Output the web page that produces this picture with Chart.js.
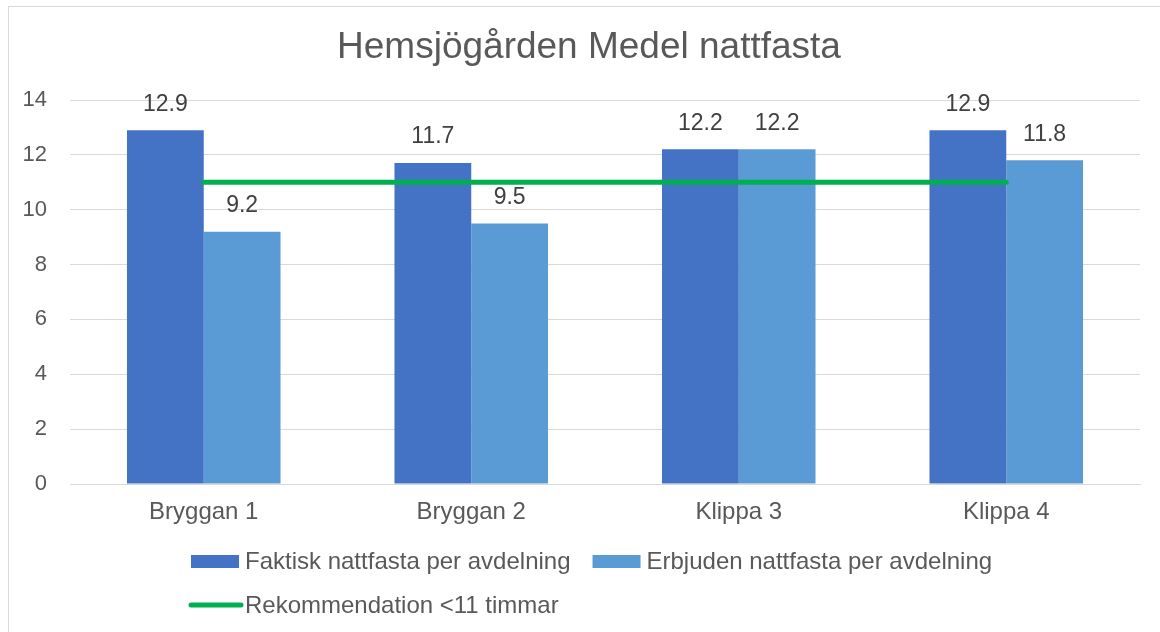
<!DOCTYPE html>
<html>
<head>
<meta charset="utf-8">
<script src="https://cdn.jsdelivr.net/npm/chart.js@4"></script>
<style>
  html, body { margin: 0; padding: 0; background: #fff; }
  #wrap { width: 1160px; height: 632px; position: relative; }
</style>
</head>
<body>
<div id="wrap"><canvas id="chart" width="1160" height="632"></canvas></div>
<script>
// -------------------------------------------------------------
// Data
// -------------------------------------------------------------
const categories = ['Bryggan 1', 'Bryggan 2', 'Klippa 3', 'Klippa 4']
const faktisk = [12.9, 11.7, 12.2, 12.9]
const erbjuden = [9.2, 9.5, 12.2, 11.8]
const rekommendation = [11, 11, 11, 11]
const yTicks = [0, 2, 4, 6, 8, 10, 12, 14]

const titleText = 'Hemsjögården Medel nattfasta'
const FONT = '"Liberation Sans", Arial, sans-serif'
const TEXT = '#595959'

// -------------------------------------------------------------
// Plugins: frame + title, value labels, legend (rows left aligned)
// -------------------------------------------------------------
const framePlugin = {
  id: 'frame',
  beforeDraw(chart) {
    const ctx = chart.ctx
    ctx.save()
    ctx.fillStyle = '#fff'
    ctx.fillRect(0, 0, chart.width, chart.height)
    ctx.strokeStyle = '#d9d9d9'
    ctx.lineWidth = 1
    ctx.strokeRect(8.5, 6.5, chart.width + 20, chart.height + 20)
    ctx.fillStyle = TEXT
    ctx.font = `37px ${FONT}`
    ctx.textAlign = 'center'
    ctx.textBaseline = 'middle'
    ctx.fillText(titleText, 589, 48)
    ctx.restore()
  }
}

const valueLabels = {
  id: 'valueLabels',
  afterDatasetsDraw(chart) {
    const ctx = chart.ctx
    ctx.save()
    ctx.fillStyle = '#404040'
    ctx.font = `23px ${FONT}`
    ctx.textAlign = 'center'
    ctx.textBaseline = 'middle'
    chart.data.datasets.forEach((ds, i) => {
      if (ds.type === 'line') return
      chart.getDatasetMeta(i).data.forEach((bar, j) => {
        ctx.fillText(ds.data[j].toFixed(1), bar.x, bar.y - 26)
      })
    })
    ctx.restore()
  }
}

const legendPlugin = {
  id: 'customLegend',
  afterDraw(chart) {
    const ctx = chart.ctx
    const ds = chart.data.datasets
    ctx.save()
    ctx.font = `24px ${FONT}`
    ctx.textBaseline = 'middle'
    ctx.textAlign = 'left'
    const markerW = 48, gap = 6, itemGap = 22
    const w = d => markerW + gap + ctx.measureText(d.label).width
    const rows = [[ds[0], ds[1]], [ds[2]]]
    const row1W = w(ds[0]) + itemGap + w(ds[1])
    const startX = Math.round(592 - row1W / 2)
    const rowY = [561, 605]
    rows.forEach((row, r) => {
      let x = startX
      const y = rowY[r]
      row.forEach(d => {
        if (d.type === 'line') {
          ctx.strokeStyle = d.borderColor
          ctx.lineWidth = 5
          ctx.lineCap = 'round'
          ctx.beginPath()
          ctx.moveTo(x, y)
          ctx.lineTo(x + markerW + 2, y)
          ctx.stroke()
        } else {
          ctx.fillStyle = d.backgroundColor
          ctx.fillRect(x, y - 6, markerW, 13)
        }
        ctx.fillStyle = TEXT
        ctx.fillText(d.label, x + markerW + gap, y + 1)
        x += w(d) + itemGap
      })
    })
    ctx.restore()
  }
}

// -------------------------------------------------------------
// Chart
// -------------------------------------------------------------
new Chart(document.getElementById('chart'), {
  type: 'bar',
  data: {
    labels: categories,
    datasets: [
      {
        label: 'Faktisk nattfasta per avdelning',
        data: faktisk,
        backgroundColor: '#4472C4',
        categoryPercentage: 0.574,
        barPercentage: 1,
        order: 2
      },
      {
        label: 'Erbjuden nattfasta per avdelning',
        data: erbjuden,
        backgroundColor: '#5B9BD5',
        categoryPercentage: 0.574,
        barPercentage: 1,
        order: 2
      },
      {
        type: 'line',
        label: 'Rekommendation <11 timmar',
        data: rekommendation,
        borderColor: '#00B050',
        backgroundColor: '#00B050',
        borderWidth: 5,
        borderCapStyle: 'round',
        pointRadius: 0,
        fill: false,
        order: 1
      }
    ]
  },
  options: {
    responsive: false,
    animation: false,
    devicePixelRatio: 1,
    layout: { padding: { left: 8, right: 20, top: 100, bottom: 98 } },
    plugins: {
      legend: { display: false },
      title: { display: false },
      tooltip: { enabled: false }
    },
    scales: {
      x: {
        grid: { display: false, drawTicks: false },
        border: { color: '#d9d9d9', width: 1 },
        ticks: { color: TEXT, font: { family: FONT, size: 24 }, padding: 14 },
        afterFit: s => { s.height = 50 }
      },
      y: {
        min: 0,
        max: 14,
        afterBuildTicks: s => { s.ticks = yTicks.map(v => ({ value: v })) },
        grid: { color: '#d9d9d9', drawTicks: false },
        border: { display: false },
        ticks: { color: TEXT, font: { family: FONT, size: 22 }, padding: 23 },
        afterFit: s => { s.width = 62 }
      }
    }
  },
  plugins: [framePlugin, valueLabels, legendPlugin]
})
</script>
</body>
</html>
